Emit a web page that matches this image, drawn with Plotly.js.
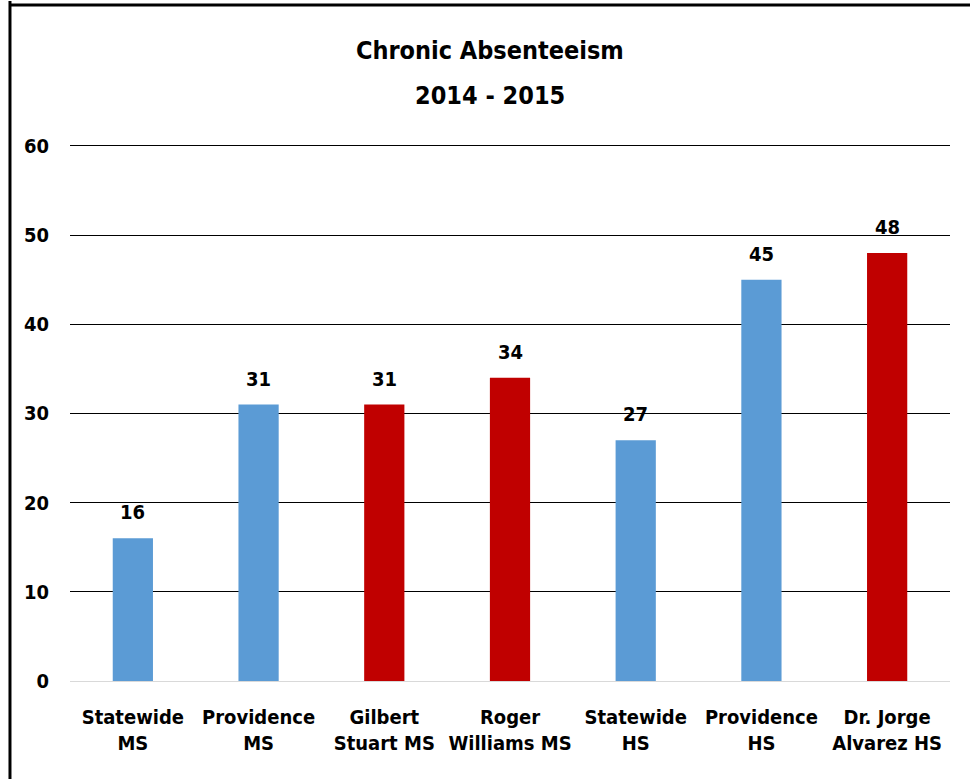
<!DOCTYPE html>
<html>
<head>
<meta charset="utf-8">
<script src="https://cdn.plot.ly/plotly-3.0.1.min.js"></script>
<style>
html,body{margin:0;padding:0;background:#fff;}
#chart{width:970px;height:779px;}
</style>
</head>
<body>
<div id="chart"></div>
<script>
const categories = ["Statewide<br>MS", "Providence<br>MS", "Gilbert<br>Stuart MS", "Roger<br>Williams MS", "Statewide<br>HS", "Providence<br>HS", "Dr. Jorge<br>Alvarez HS"];
const values = [16, 31, 31, 34, 27, 45, 48];
const barColors = ["#5B9BD5", "#5B9BD5", "#C00000", "#C00000", "#5B9BD5", "#5B9BD5", "#C00000"];
const yTicks = [0, 10, 20, 30, 40, 50, 60];
const titleLine1 = "Chronic Absenteeism";
const titleLine2 = "2014 - 2015";

const FONT = "'DejaVu Sans Condensed', 'Liberation Sans Narrow', sans-serif";

const trace = {
  type: "bar",
  x: categories,
  y: values,
  marker: {color: barColors},
  hoverinfo: "none"
};

const valueLabels = categories.map((c, i) => ({
  x: c, y: values[i], xref: "x", yref: "y",
  text: String(values[i]), showarrow: false,
  xanchor: "center", yanchor: "bottom", yshift: 12,
  font: {family: FONT, size: 20, color: "#000", weight: "bold"}
}));

const layout = {
  width: 970,
  height: 779,
  margin: {l: 70, r: 20, t: 137, b: 98},
  paper_bgcolor: "#fff",
  plot_bgcolor: "#fff",
  showlegend: false,
  bargap: 0.68,
  title: {
    text: titleLine1,
    x: 0.505, xref: "container", xanchor: "center",
    y: 0.9358, yref: "container", yanchor: "middle",
    font: {family: FONT, size: 25, color: "#000", weight: "bold"}
  },
  annotations: [
    {text: titleLine2, xref: "paper", yref: "paper", x: 0.4773, y: 1.0772, xanchor: "center", yanchor: "middle",
     showarrow: false, font: {family: FONT, size: 25, color: "#000", weight: "bold"}}
  ].concat(valueLabels),
  font: {family: FONT, color: "#000"},
  xaxis: {
    type: "category",
    tickangle: 0,
    tickfont: {family: FONT, size: 20, color: "#000", weight: "bold"},
    showgrid: false,
    showline: false,
    ticks: "",
    ticklabelstandoff: 22,
    fixedrange: true
  },
  yaxis: {
    range: [0, 61],
    tickvals: yTicks,
    ticktext: yTicks.map(String),
    tickfont: {family: FONT, size: 20, color: "#000", weight: "bold"},
    showgrid: true,
    gridcolor: "#000",
    gridwidth: 1,
    zeroline: true,
    zerolinecolor: "#D9D9D9",
    zerolinewidth: 1,
    showline: false,
    ticks: "",
    ticklabelstandoff: 20,
    fixedrange: true
  },
  shapes: [
    {type: "line", xref: "paper", yref: "paper", x0: -0.0682, x1: -0.0682, y0: 1.25, y1: -0.3, line: {color: "#000", width: 3}},
    {type: "line", xref: "paper", yref: "paper", x0: -0.0682, x1: 1.05, y0: 1.2426, y1: 1.2426, line: {color: "#000", width: 3}}
  ]
};

Plotly.newPlot("chart", [trace], layout, {displayModeBar: false, staticPlot: true});
</script>
</body>
</html>
